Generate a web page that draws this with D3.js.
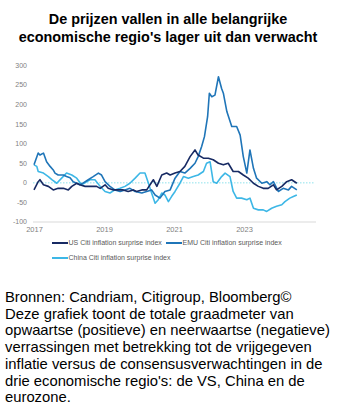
<!DOCTYPE html>
<html>
<head>
<meta charset="utf-8">
<script src="https://cdn.jsdelivr.net/npm/d3@7"></script>
<style>
  body { margin: 0; background: #fff; }
  svg { display: block; }
</style>
</head>
<body>
<div id="chart"></div>
<script>
// values (x = decimal year)
const titleLines = ["De prijzen vallen in alle belangrijke", "economische regio's lager uit dan verwacht"];
const yTicks = [300, 250, 200, 150, 100, 50, 0, -50, -100];
const xTicks = [2017, 2019, 2021, 2023];

const usYears = [2017.00, 2017.12, 2017.17, 2017.27, 2017.41, 2017.55, 2017.69, 2017.84, 2017.98, 2018.08, 2018.22, 2018.31, 2018.46, 2018.65, 2018.79, 2018.89, 2019.03, 2019.12, 2019.27, 2019.41, 2019.55, 2019.69, 2019.84, 2019.93, 2020.08, 2020.22, 2020.41, 2020.51, 2020.65, 2020.79, 2020.89, 2021.03, 2021.17, 2021.31, 2021.46, 2021.60, 2021.69, 2021.84, 2021.98, 2022.12, 2022.27, 2022.41, 2022.55, 2022.69, 2022.84, 2022.98, 2023.12, 2023.27, 2023.41, 2023.55, 2023.69, 2023.84, 2023.93, 2024.08, 2024.22, 2024.36, 2024.51];
const usValues = [-18, 3, 8, -5, -9, -18, -14, -14, -18, -9, -1, -5, -9, -9, -9, -14, -5, -14, -18, -18, -18, -22, -18, -22, -18, -18, 8, -9, 20, 25, 20, 25, 29, 42, 67, 84, 71, 63, 63, 59, 50, 46, 50, 29, 29, 20, 12, -1, -9, -14, -14, -5, -18, -9, 3, 8, -1];

const emuYears = [2017.00, 2017.12, 2017.17, 2017.27, 2017.36, 2017.46, 2017.55, 2017.60, 2017.69, 2017.84, 2017.93, 2018.03, 2018.12, 2018.22, 2018.31, 2018.41, 2018.55, 2018.69, 2018.84, 2018.93, 2019.03, 2019.17, 2019.31, 2019.46, 2019.60, 2019.74, 2019.89, 2020.08, 2020.22, 2020.36, 2020.46, 2020.60, 2020.74, 2020.89, 2021.03, 2021.17, 2021.31, 2021.46, 2021.60, 2021.69, 2021.79, 2021.87, 2021.96, 2022.01, 2022.08, 2022.17, 2022.27, 2022.36, 2022.41, 2022.51, 2022.65, 2022.79, 2022.89, 2022.98, 2023.08, 2023.17, 2023.27, 2023.36, 2023.51, 2023.65, 2023.74, 2023.84, 2023.98, 2024.12, 2024.27, 2024.36, 2024.51];
const emuValues = [46, 76, 71, 76, 54, 42, 33, 25, 20, 20, 16, 13, 3, -1, -5, 0, 8, 16, 25, 20, 3, -9, -18, -22, -18, -14, -22, -26, -22, -18, -31, -39, -22, -18, 12, 29, 25, 37, 50, 67, 93, 118, 169, 229, 220, 224, 271, 241, 229, 182, 144, 144, 122, 67, 25, 84, 37, 12, -1, 3, -5, 3, -22, -14, -18, -9, -18];

const chinaYears = [2017.00, 2017.08, 2017.12, 2017.27, 2017.41, 2017.51, 2017.65, 2017.79, 2017.93, 2018.08, 2018.22, 2018.36, 2018.51, 2018.60, 2018.74, 2018.89, 2019.03, 2019.17, 2019.31, 2019.46, 2019.60, 2019.74, 2019.89, 2020.03, 2020.17, 2020.27, 2020.36, 2020.46, 2020.55, 2020.65, 2020.74, 2020.84, 2020.93, 2021.03, 2021.17, 2021.27, 2021.41, 2021.55, 2021.69, 2021.84, 2021.93, 2022.03, 2022.12, 2022.22, 2022.36, 2022.46, 2022.60, 2022.69, 2022.79, 2022.93, 2023.08, 2023.17, 2023.27, 2023.41, 2023.55, 2023.65, 2023.79, 2023.93, 2024.08, 2024.17, 2024.31, 2024.41, 2024.51];
const chinaValues = [46, 42, 29, 25, 16, 8, -1, 12, 25, 20, 12, -5, 3, 8, 8, -9, -22, -26, -18, -14, -9, -1, 12, 25, 25, -1, -26, -52, -43, -26, -31, -48, -35, -22, -1, 16, 12, 16, 20, 29, 50, 54, 3, -1, 16, 25, 16, -22, -39, -39, -43, -39, -65, -69, -69, -73, -65, -60, -56, -48, -39, -35, -31];

const seriesNames = ["US Citi inflation surprise index", "EMU Citi inflation surprise index", "China Citi inflation surprise index"];
const seriesColors = ["#172a63", "#1f75b8", "#3db7e6"];

const noteLines = [
  "Bronnen: Candriam, Citigroup, Bloomberg\u00a9",
  "Deze grafiek toont de totale graadmeter van",
  "opwaartse (positieve) en neerwaartse (negatieve)",
  "verrassingen met betrekking tot de vrijgegeven",
  "inflatie versus de consensusverwachtingen in de",
  "drie economische regio's: de VS, China en de",
  "eurozone."
];

const width = 342, height = 407;

const svg = d3.select("#chart").append("svg")
  .attr("width", width)
  .attr("height", height)
  .attr("font-family", "'Liberation Sans', Arial, sans-serif");

// title
svg.append("g")
  .selectAll("text")
  .data(titleLines)
  .join("text")
  .attr("x", 168)
  .attr("y", (d, i) => 24 + i * 18)
  .attr("text-anchor", "middle")
  .attr("font-size", 14.4)
  .attr("font-weight", "bold")
  .attr("fill", "#000")
  .text(d => d);

const x = d3.scaleLinear().domain([2017, 2025]).range([34, 314]);
const y = d3.scaleLinear().domain([-100, 300]).range([222, 65.4]);

// y labels
svg.append("g")
  .attr("font-size", 7)
  .attr("fill", "#7f7f7f")
  .selectAll("text")
  .data(yTicks)
  .join("text")
  .attr("x", 27)
  .attr("y", d => y(d))
  .attr("dy", "0.35em")
  .attr("text-anchor", "end")
  .text(d => d);

// x axis
const xAxis = svg.append("g")
  .attr("transform", `translate(0,${y(-100)})`)
  .call(d3.axisBottom(x).tickValues(xTicks).tickFormat(d3.format("d")).tickSize(0).tickPadding(5));
xAxis.select(".domain").attr("stroke", "#d9d9d9").attr("d", `M${x(2017) - 1},0H${x(2025) + 2}`);
xAxis.selectAll("text")
  .attr("font-size", 7.5)
  .attr("font-family", "'Liberation Sans', Arial, sans-serif")
  .attr("fill", "#7f7f7f");

// zero line
svg.append("line")
  .attr("x1", x(2017) - 1)
  .attr("x2", x(2025))
  .attr("y1", y(0))
  .attr("y2", y(0))
  .attr("stroke", "#8ee3ec")
  .attr("stroke-width", 1)
  .attr("stroke-dasharray", "1.5,1.5");

const line = d3.line()
  .x(d => x(d[0]))
  .y(d => y(d[1]));

const series = [
  d3.zip(usYears, usValues),
  d3.zip(emuYears, emuValues),
  d3.zip(chinaYears, chinaValues)
];

// draw china first, then emu, then us on top
svg.append("g")
  .attr("fill", "none")
  .attr("stroke-width", 1.6)
  .attr("stroke-linejoin", "round")
  .selectAll("path")
  .data([2, 1, 0])
  .join("path")
  .attr("stroke", i => seriesColors[i])
  .attr("d", i => line(series[i]));

// legend
const legendPos = [[52, 243], [166, 243], [52, 258]];
const legend = svg.append("g")
  .selectAll("g")
  .data(seriesNames)
  .join("g")
  .attr("transform", (d, i) => `translate(${legendPos[i][0]},${legendPos[i][1]})`);

legend.append("line")
  .attr("x1", 0)
  .attr("x2", 16)
  .attr("stroke", (d, i) => seriesColors[i])
  .attr("stroke-width", 2);

legend.append("text")
  .attr("x", 16.5)
  .attr("dy", "0.35em")
  .attr("font-size", 7)
  .attr("fill", "#595959")
  .text(d => d);

// note below
svg.append("g")
  .attr("font-size", 14.8)
  .attr("fill", "#000")
  .selectAll("text")
  .data(noteLines)
  .join("text")
  .attr("x", 5)
  .attr("y", (d, i) => 302 + i * 16.7)
  .text(d => d);
</script>
</body>
</html>
